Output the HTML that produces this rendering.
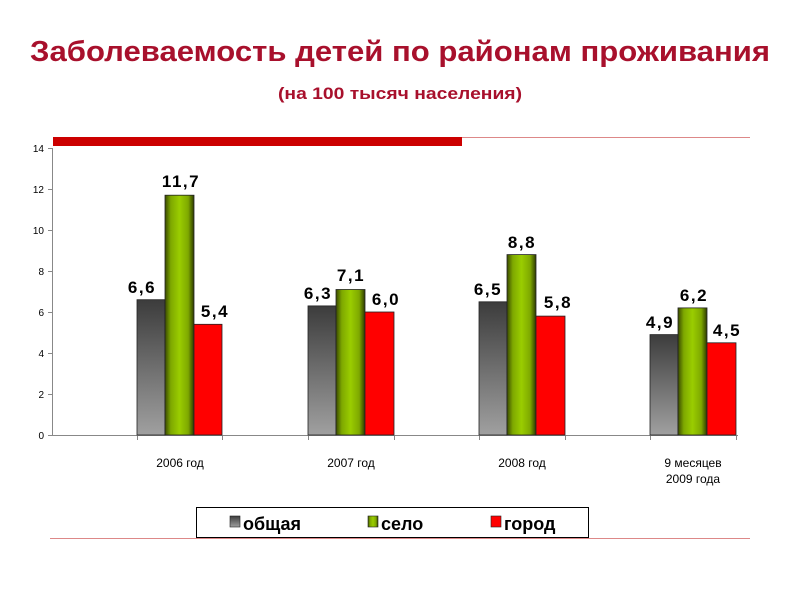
<!DOCTYPE html>
<html><head><meta charset="utf-8"><style>
html,body{margin:0;padding:0;background:#fff;}
svg{display:block;}
text{font-family:"Liberation Sans","DejaVu Sans",sans-serif;}
</style></head><body>
<svg width="800" height="600" viewBox="0 0 800 600" xmlns="http://www.w3.org/2000/svg">
<defs>
<linearGradient id="gg" x1="0" y1="0" x2="0" y2="1"><stop offset="0" stop-color="#3c3c3c"/><stop offset="1" stop-color="#a0a0a0"/></linearGradient>
<linearGradient id="gn" x1="0" y1="0" x2="1" y2="0"><stop offset="0" stop-color="#3a4a00"/><stop offset="0.2" stop-color="#7ea800"/><stop offset="0.5" stop-color="#9acd00"/><stop offset="0.8" stop-color="#7ea800"/><stop offset="1" stop-color="#2e3a00"/></linearGradient>
</defs>
<text x="400" y="61" text-anchor="middle" font-size="29" font-weight="bold" fill="#a8102c" textLength="740" lengthAdjust="spacingAndGlyphs">Заболеваемость детей по районам проживания</text>
<text x="400" y="99" text-anchor="middle" font-size="17" font-weight="bold" fill="#a8102c" textLength="244" lengthAdjust="spacingAndGlyphs">(на 100 тысяч населения)</text>
<rect x="53" y="137" width="409" height="9" fill="#cc0000"/>
<line x1="462" y1="137.5" x2="750" y2="137.5" stroke="#d88" stroke-width="1"/>
<line x1="50" y1="538.5" x2="750" y2="538.5" stroke="#d88" stroke-width="1"/>
<line x1="52.5" y1="148" x2="52.5" y2="436" stroke="#888"/>
<line x1="52" y1="435.5" x2="738" y2="435.5" stroke="#888"/>
<g stroke="#888">
<line x1="48" y1="148.5" x2="52" y2="148.5"/><line x1="48" y1="189.5" x2="52" y2="189.5"/><line x1="48" y1="230.5" x2="52" y2="230.5"/><line x1="48" y1="271.5" x2="52" y2="271.5"/><line x1="48" y1="312.5" x2="52" y2="312.5"/><line x1="48" y1="353.5" x2="52" y2="353.5"/><line x1="48" y1="394.5" x2="52" y2="394.5"/><line x1="48" y1="435.5" x2="52" y2="435.5"/>
<line x1="137.5" y1="435" x2="137.5" y2="440"/><line x1="222.5" y1="435" x2="222.5" y2="440"/><line x1="308.5" y1="435" x2="308.5" y2="440"/><line x1="394.5" y1="435" x2="394.5" y2="440"/><line x1="479.5" y1="435" x2="479.5" y2="440"/><line x1="565.5" y1="435" x2="565.5" y2="440"/><line x1="650.5" y1="435" x2="650.5" y2="440"/><line x1="736.5" y1="435" x2="736.5" y2="440"/>
</g>
<g font-size="10" text-anchor="end" fill="#000">
<text x="44" y="152">14</text><text x="44" y="193">12</text><text x="44" y="234">10</text><text x="44" y="275">8</text><text x="44" y="316">6</text><text x="44" y="357">4</text><text x="44" y="398">2</text><text x="44" y="439">0</text>
</g>
<g stroke="#222" stroke-width="0.8">
<rect x="137" y="299.7" width="28" height="135.3" fill="url(#gg)"/>
<rect x="165" y="195.2" width="29" height="239.8" fill="url(#gn)"/>
<rect x="194" y="324.3" width="28" height="110.7" fill="#ff0000"/>
<rect x="308" y="305.9" width="28" height="129.1" fill="url(#gg)"/>
<rect x="336" y="289.5" width="29" height="145.5" fill="url(#gn)"/>
<rect x="365" y="312" width="29" height="123" fill="#ff0000"/>
<rect x="479" y="301.8" width="28" height="133.2" fill="url(#gg)"/>
<rect x="507" y="254.6" width="29" height="180.4" fill="url(#gn)"/>
<rect x="536" y="316.1" width="29" height="118.9" fill="#ff0000"/>
<rect x="650" y="334.6" width="28" height="100.4" fill="url(#gg)"/>
<rect x="678" y="307.9" width="29" height="127.1" fill="url(#gn)"/>
<rect x="707" y="342.8" width="29" height="92.2" fill="#ff0000"/>
</g>
<g font-family="DejaVu Sans" font-size="17" font-weight="bold" text-anchor="middle" fill="#000" letter-spacing="1.5">
<text x="142" y="293">6,6</text><text x="181" y="187">11,7</text><text x="215" y="317">5,4</text>
<text x="318" y="299">6,3</text><text x="351" y="281">7,1</text><text x="386" y="305">6,0</text>
<text x="488" y="295">6,5</text><text x="522" y="248">8,8</text><text x="558" y="308">5,8</text>
<text x="660" y="328">4,9</text><text x="694" y="301">6,2</text><text x="727" y="336">4,5</text>
</g>
<g font-size="12" text-anchor="middle" fill="#000">
<text x="180" y="467">2006 год</text>
<text x="351" y="467">2007 год</text>
<text x="522" y="467">2008 год</text>
<text x="693" y="467">9 месяцев</text>
<text x="693" y="483">2009 года</text>
</g>
<rect x="196.5" y="507.5" width="392" height="30" fill="#fff" stroke="#000" stroke-width="1"/>
<rect x="230" y="516" width="10" height="11" fill="url(#gg)" stroke="#222" stroke-width="0.6"/>
<rect x="368" y="516" width="10" height="11" fill="url(#gn)" stroke="#222" stroke-width="0.6"/>
<rect x="491" y="516" width="10" height="11" fill="#ff0000" stroke="#222" stroke-width="0.6"/>
<g font-size="18" font-weight="bold" fill="#000">
<text x="243" y="530">общая</text>
<text x="381" y="530">село</text>
<text x="504" y="530">город</text>
</g>
</svg>
</body></html>
